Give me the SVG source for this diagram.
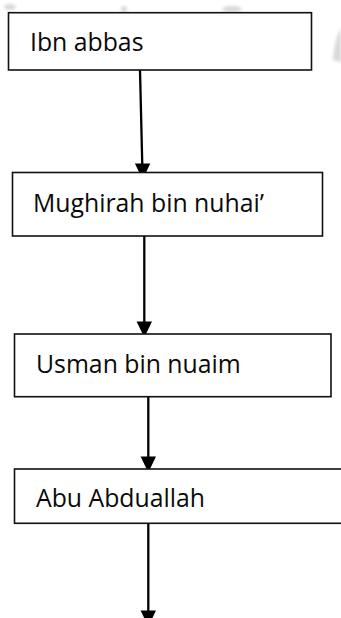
<svg xmlns="http://www.w3.org/2000/svg" width="341" height="618" viewBox="0 0 341 618">
  <style>
    .box { fill: #ffffff; stroke: #111111; stroke-width: 1.6; }
    .label { font-family: "Open Sans", "Noto Sans", sans-serif; font-size: 24.8px; fill: #0a0a0a; }
    .link { fill: none; stroke: #000000; stroke-width: 2.3; }
    .mark { fill: #cfcfcf; }
  </style>
  <defs>
    <!-- downward arrowhead, tip at the origin -->
    <path id="head" d="M-7.7,-16 L7.7,-16 L0,0 Z" fill="#000000"/>
    <filter id="soft" x="-50%" y="-50%" width="200%" height="200%">
      <feGaussianBlur stdDeviation="1.6"/>
    </filter>
  </defs>

  <rect width="341" height="618" fill="#ffffff"/>

  <!-- faint background marks -->
  <g class="mark" filter="url(#soft)" opacity="0.8">
    <path d="M333,60 Q334,40 341,28 L341,62 Z"/>
    <ellipse cx="232" cy="9" rx="10" ry="3"/>
    <ellipse cx="124" cy="9" rx="3" ry="3"/>
    <ellipse cx="10" cy="7" rx="6" ry="3"/>
  </g>

  <!-- connectors -->
  <g id="connectors">
    <path class="link" d="M140,70 L142.3,166"/>
    <use href="#head" transform="translate(142.6,179.5)"/>
    <path class="link" d="M144.3,236 L144.3,324"/>
    <use href="#head" transform="translate(144.3,337.5)"/>
    <path class="link" d="M148.3,396.7 L148.3,459"/>
    <use href="#head" transform="translate(148.3,472.5)"/>
    <path class="link" d="M148.3,523.3 L148.3,612"/>
    <use href="#head" transform="translate(148.3,626.5)"/>
  </g>

  <g id="node-ibn-abbas">
    <rect class="box" x="8.5" y="12.7" width="303" height="57.3"/>
    <text class="label" x="30" y="50.7">Ibn abbas</text>
  </g>

  <g id="node-mughirah">
    <rect class="box" x="12.5" y="172.5" width="310" height="63.5"/>
    <text class="label" x="33" y="211.7">Mughirah bin nuhai’</text>
  </g>

  <g id="node-usman">
    <rect class="box" x="14.5" y="334" width="316.5" height="62.7"/>
    <text class="label" x="36" y="373">Usman bin nuaim</text>
  </g>

  <g id="node-abu-abduallah">
    <rect class="box" x="14.5" y="469" width="340" height="54.3"/>
    <text class="label" x="36" y="506.7">Abu Abduallah</text>
  </g>
</svg>
